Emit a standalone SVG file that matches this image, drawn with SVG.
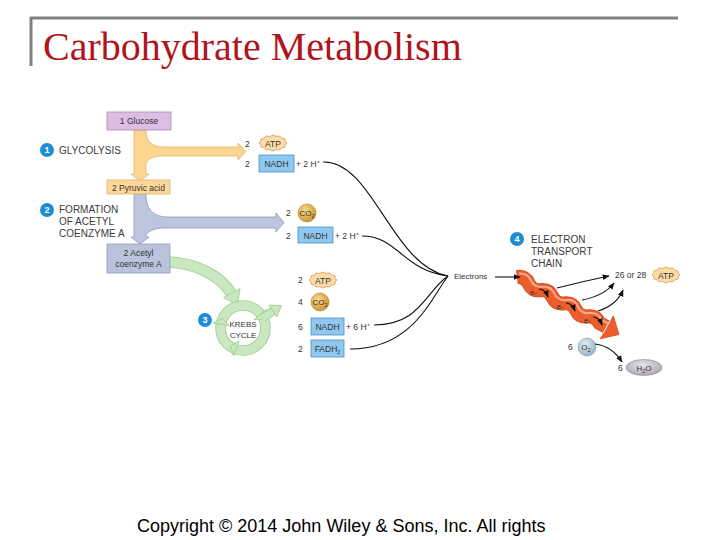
<svg xmlns="http://www.w3.org/2000/svg" width="720" height="540" viewBox="0 0 720 540">
<defs>
<style>
.t{font-family:"Liberation Sans",Arial,sans-serif;fill:#333}
.s{font-size:8.5px}
.lab{font-size:10px;fill:#3a3a3a}
.bt{font-family:"Liberation Sans",Arial,sans-serif;font-size:9px;font-weight:bold;fill:#fff;text-anchor:middle}
.box{stroke-width:0.8}
.nadh{fill:#8fc8ef;stroke:#4a90c8;stroke-width:0.8}
.wire{fill:none;stroke:#111;stroke-width:1.1}
.badge{fill:#1f8dd6}
.green{fill:#c9e7c1;stroke:#9ccc8c;stroke-width:0.8}
</style>
<marker id="ah" viewBox="0 0 10 10" refX="9" refY="5" markerWidth="7" markerHeight="7" orient="auto" markerUnits="userSpaceOnUse">
<path d="M0,1 L10,5 L0,9 Z" fill="#111"/>
</marker>
<radialGradient id="gold" cx="0.4" cy="0.35" r="0.7">
<stop offset="0" stop-color="#f8dc8a"/><stop offset="1" stop-color="#c9902a"/>
</radialGradient>
<radialGradient id="oxy" cx="0.4" cy="0.35" r="0.7">
<stop offset="0" stop-color="#e2eef4"/><stop offset="1" stop-color="#8fb2c4"/>
</radialGradient>
<radialGradient id="wat" cx="0.45" cy="0.35" r="0.7">
<stop offset="0" stop-color="#e6e3ea"/><stop offset="1" stop-color="#a8a3ae"/>
</radialGradient>
<path id="burst" d="M14,0 L12.07,1.76 L12.12,4 L8.84,4.81 L7,6.93 L3.24,6.57 L0,8 L-3.24,6.57 L-7,6.93 L-8.84,4.81 L-12.12,4 L-12.07,1.76 L-14,0 L-12.07,-1.76 L-12.12,-4 L-8.84,-4.81 L-7,-6.93 L-3.24,-6.57 L0,-8 L3.24,-6.57 L7,-6.93 L8.84,-4.81 L12.12,-4 L12.07,-1.76 Z" fill="#fcdca6" stroke="#d99a4a" stroke-width="0.8"/>
<path id="wave" d="M517,277 Q525.3,275.9 528.8,283.6 T540.6,290.2 T552.4,296.8 T564.2,303.4 T575.9,309.9 T587.7,316.5 T599.5,323.1 L606,326.7"/>
</defs>
<rect width="720" height="540" fill="#fff"/>

<g id="title">
<line x1="30" y1="18" x2="678" y2="18" stroke="#808080" stroke-width="3"/>
<line x1="31" y1="17" x2="31" y2="66" stroke="#808080" stroke-width="3"/>
<text x="43" y="60" font-family="'Liberation Serif','Times New Roman',serif" font-size="40" fill="#b0141c">Carbohydrate Metabolism</text>
</g>

<g id="glycolysis-arrow">
<path d="M134,130 L146,130 C146,142 152,147 165,147 L238,147 L238,143 L246,151.5 L238,160 L238,156 L162,156 C153,156 146,160 146,164 L146,174 L149,174 L140,181 L131,174 L134,174 Z" fill="#fbd690" stroke="#e6b56a" stroke-width="0.8"/>
</g>
<g id="acetyl-arrow">
<path d="M134,194 L146,194 C146,208 152,217 168,217 L276,217 L276,213 L284,222.5 L276,232 L276,228 L164,228 C154,228 146,232 146,236 L146,237 L149,237 L140,244 L131,237 L134,237 Z" fill="#bcc5dd" stroke="#8f9bbb" stroke-width="0.8"/>
</g>

<g id="krebs-arrow">
<path d="M165,262 C198,262 222,278 231,293" fill="none" stroke="#9ccc8c" stroke-width="11.5"/>
<path d="M165,262 C198,262 222,278 231,293" fill="none" stroke="#c9e7c1" stroke-width="9.8"/>
<polygon class="green" points="223.5,297.5 240,288.5 237.5,305"/>
</g>

<g id="glucose">
<rect x="107" y="112" width="64" height="18" fill="#dcbde3" stroke="#a98ab0" class="box"/>
<text x="139" y="124" class="t s" text-anchor="middle">1 Glucose</text>
</g>
<g id="pyruvic">
<rect x="107" y="180" width="63" height="14" fill="#fdd79a" stroke="#e0b36e" class="box"/>
<text x="138.5" y="190.5" class="t s" text-anchor="middle">2 Pyruvic acid</text>
</g>
<g id="acetyl-coa">
<rect x="107" y="244" width="63" height="29" fill="#b9c3dc" stroke="#8f9bbb" class="box"/>
<text x="138.5" y="256" class="t s" text-anchor="middle">2 Acetyl</text>
<text x="138.5" y="267" class="t s" text-anchor="middle">coenzyme A</text>
</g>

<g id="step1">
<circle cx="47" cy="150" r="7" class="badge"/>
<text x="47" y="153.3" class="bt">1</text>
<text x="59" y="154" class="t lab">GLYCOLYSIS</text>
</g>
<g id="step2">
<circle cx="47" cy="210" r="7" class="badge"/>
<text x="47" y="213.3" class="bt">2</text>
<text x="59" y="213" class="t lab">FORMATION</text>
<text x="59" y="225" class="t lab">OF ACETYL</text>
<text x="59" y="237" class="t lab">COENZYME A</text>
</g>
<g id="step3">
<circle cx="205" cy="320" r="7" class="badge"/>
<text x="205" y="323.3" class="bt">3</text>
</g>
<g id="step4">
<circle cx="517" cy="239" r="7" class="badge"/>
<text x="517" y="242.3" class="bt">4</text>
<text x="531" y="243" class="t lab">ELECTRON</text>
<text x="531" y="255" class="t lab">TRANSPORT</text>
<text x="531" y="267" class="t lab">CHAIN</text>
</g>

<g id="krebs-cycle">
<circle cx="243" cy="328" r="22.5" fill="none" stroke="#9ccc8c" stroke-width="10.5"/>
<circle cx="243" cy="328" r="22.5" fill="none" stroke="#c9e7c1" stroke-width="8.8"/>
<polygon class="green" points="266.2,309.4 254,319.6 264,319.1"/>
<polygon class="green" points="233.6,356 239,341 230.7,346.4"/>
<polygon class="green" points="213.4,323 229.2,325.8 222.3,318.5"/>
<path d="M263,318 L273,311" stroke="#9ccc8c" stroke-width="8.5" fill="none"/>
<path d="M262,318.6 L273.5,310.7" stroke="#c9e7c1" stroke-width="6.8" fill="none"/>
<polygon class="green" points="276.8,316.9 269.2,305.1 281.5,305.6"/>
<text x="243" y="327" class="t" font-size="8" text-anchor="middle">KREBS</text>
<text x="243" y="337.5" class="t" font-size="8" text-anchor="middle">CYCLE</text>
</g>

<g id="glyco-products">
<text x="245" y="147" class="t s">2</text>
<use href="#burst" x="273" y="143"/>
<text x="273" y="146.5" class="t s" text-anchor="middle">ATP</text>
<text x="245" y="166.5" class="t s">2</text>
<rect x="259" y="155" width="35" height="17" class="nadh"/>
<text x="276.5" y="166.5" class="t s" text-anchor="middle">NADH</text>
<text x="296" y="166.5" class="t s">+ 2 H⁺</text>
</g>
<g id="acetyl-products">
<text x="286" y="216" class="t s">2</text>
<circle cx="307" cy="213" r="9" fill="url(#gold)" stroke="#b27f20" stroke-width="0.6"/>
<text x="307" y="216" class="t" font-size="8" text-anchor="middle">CO<tspan font-size="5.5" dy="2">2</tspan></text>
<text x="286" y="238.5" class="t s">2</text>
<rect x="298" y="227" width="35" height="16" class="nadh"/>
<text x="315.5" y="238.5" class="t s" text-anchor="middle">NADH</text>
<text x="335" y="238.5" class="t s">+ 2 H⁺</text>
</g>
<g id="krebs-products">
<text x="298" y="283" class="t s">2</text>
<use href="#burst" x="323" y="280"/>
<text x="323" y="283.5" class="t s" text-anchor="middle">ATP</text>
<text x="298" y="305" class="t s">4</text>
<circle cx="320" cy="302" r="9" fill="url(#gold)" stroke="#b27f20" stroke-width="0.6"/>
<text x="320" y="305" class="t" font-size="8" text-anchor="middle">CO<tspan font-size="5.5" dy="2">2</tspan></text>
<text x="298" y="329.5" class="t s">6</text>
<rect x="311" y="318" width="33" height="17" class="nadh"/>
<text x="327.5" y="329.5" class="t s" text-anchor="middle">NADH</text>
<text x="346" y="329.5" class="t s">+ 6 H⁺</text>
<text x="298" y="351.5" class="t s">2</text>
<rect x="311" y="340" width="33" height="17" class="nadh"/>
<text x="327.5" y="351.5" class="t s" text-anchor="middle">FADH<tspan font-size="5.5" dy="2">2</tspan></text>
</g>

<g id="etc-chain">
<use href="#wave" fill="none" stroke="#d24a22" stroke-width="14"/>
<use href="#wave" fill="none" stroke="#ec5d2c" stroke-width="12.6"/>
<use href="#wave" fill="none" stroke="#f8ad8e" stroke-width="2" transform="translate(1.9,-3.4)"/>
<polygon points="613.3,315.8 619,334.5 600,338.8 606,330" fill="#ec5d2c" stroke="#d24a22" stroke-width="0.8"/>
<text x="530" y="295" class="t" font-size="7.5" fill="#222">e-</text>
<text x="557" y="309" class="t" font-size="7.5" fill="#222">e-</text>
<text x="584" y="323" class="t" font-size="7.5" fill="#222">e-</text>
<path d="M539,289 Q545,289 548,297" class="wire" marker-end="url(#ah)"/>
<path d="M566,303 Q572,303 575,311" class="wire" marker-end="url(#ah)"/>
<path d="M593,317 Q599,317 602,325" class="wire" marker-end="url(#ah)"/>
</g>

<g id="etc-products">
<text x="454" y="279" class="t" font-size="8">Electrons</text>
<text x="615" y="278" class="t s">26 or 28</text>
<use href="#burst" x="666" y="275"/>
<text x="666" y="278.5" class="t s" text-anchor="middle">ATP</text>
<text x="568" y="350" class="t s">6</text>
<circle cx="587" cy="347" r="9" fill="url(#oxy)" stroke="#7d9aa8" stroke-width="0.6"/>
<text x="586" y="350" class="t" font-size="8" text-anchor="middle">O<tspan font-size="5.5" dy="2">2</tspan></text>
<text x="618" y="370.5" class="t s">6</text>
<ellipse cx="644" cy="367.5" rx="18" ry="8" fill="url(#wat)" stroke="#8c8792" stroke-width="0.6"/>
<text x="644" y="370.5" class="t" font-size="8" text-anchor="middle">H<tspan font-size="5.5" dy="2">2</tspan><tspan dy="-2">O</tspan></text>
</g>

<g id="connectors">
<path d="M323,162 C372,160 392,266 448,276" class="wire"/>
<path d="M362,236 C398,236 402,270 448,276" class="wire"/>
<path d="M374,325 C420,325 425,292 448,276" class="wire"/>
<path d="M350,349 C412,349 430,300 448,276" class="wire"/>
<path d="M495,277 L520,277" class="wire" marker-end="url(#ah)"/>
<path d="M557,288 Q585,281 609,276" class="wire" marker-end="url(#ah)"/>
<path d="M582,300 Q604,296 614,283" class="wire" marker-end="url(#ah)"/>
<path d="M598,311 Q617,305 623,290" class="wire" marker-end="url(#ah)"/>
<path d="M595,344 Q612,346 622,362" class="wire" marker-end="url(#ah)"/>
</g>

<g id="copyright">
<text x="137" y="532" font-family="'Liberation Sans',Arial,sans-serif" font-size="18" fill="#000">Copyright © 2014 John Wiley &amp; Sons, Inc. All rights</text>
</g>
</svg>
